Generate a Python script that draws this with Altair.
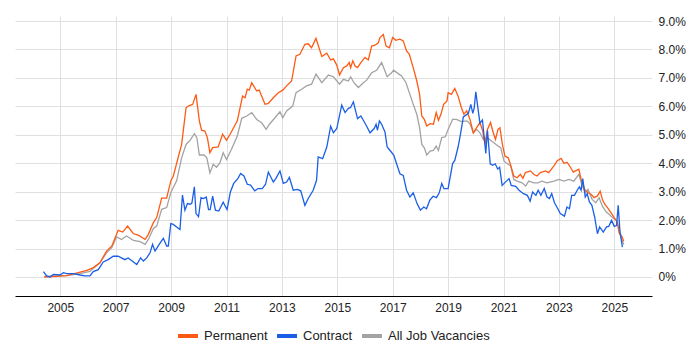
import altair as alt
import pandas as pd

perm_x = [2004.42, 2005.23, 2005.65, 2005.96, 2006.19, 2006.43, 2006.67, 2006.86, 2007.09, 2007.25, 2007.43, 2007.64, 2007.82, 2008.06, 2008.18, 2008.36, 2008.48, 2008.66, 2008.84, 2008.99, 2009.08, 2009.38, 2009.54, 2009.62, 2009.78, 2009.9, 2010.02, 2010.1, 2010.22, 2010.31, 2010.4, 2010.5, 2010.7, 2010.86, 2011.0, 2011.13, 2011.39, 2011.58, 2011.67, 2011.75, 2011.82, 2011.91, 2012.09, 2012.18, 2012.39, 2012.51, 2012.69, 2012.87, 2013.03, 2013.17, 2013.35, 2013.51, 2013.65, 2013.83, 2013.95, 2014.07, 2014.23, 2014.44, 2014.62, 2014.76, 2014.86, 2014.98, 2015.08, 2015.22, 2015.34, 2015.43, 2015.48, 2015.56, 2015.64, 2015.73, 2015.85, 2016.0, 2016.12, 2016.24, 2016.36, 2016.48, 2016.54, 2016.66, 2016.76, 2016.88, 2017.0, 2017.11, 2017.26, 2017.38, 2017.5, 2017.6, 2017.74, 2017.87, 2017.97, 2018.05, 2018.14, 2018.23, 2018.35, 2018.47, 2018.57, 2018.65, 2018.74, 2018.84, 2018.96, 2019.0, 2019.12, 2019.24, 2019.36, 2019.48, 2019.57, 2019.67, 2019.79, 2019.91, 2020.03, 2020.15, 2020.25, 2020.33, 2020.42, 2020.53, 2020.63, 2020.71, 2020.8, 2020.87, 2020.96, 2021.05, 2021.17, 2021.25, 2021.37, 2021.49, 2021.61, 2021.7, 2021.79, 2021.97, 2022.09, 2022.21, 2022.33, 2022.51, 2022.63, 2022.82, 2022.94, 2023.08, 2023.18, 2023.3, 2023.42, 2023.52, 2023.6, 2023.72, 2023.8, 2023.93, 2024.05, 2024.17, 2024.27, 2024.39, 2024.49, 2024.57, 2024.66, 2024.76, 2024.88, 2025.0, 2025.1, 2025.18, 2025.27, 2025.34]
perm_y = [0.0, 0.05, 0.15, 0.23, 0.33, 0.5, 0.91, 1.09, 1.64, 1.58, 1.79, 1.52, 1.47, 1.32, 1.5, 1.91, 2.09, 2.77, 2.77, 3.38, 3.55, 4.66, 5.95, 6.01, 6.07, 6.42, 5.49, 5.16, 5.13, 4.9, 4.37, 4.55, 4.57, 5.02, 4.81, 5.02, 5.49, 6.36, 6.3, 6.6, 6.57, 6.83, 6.54, 6.57, 6.07, 6.1, 6.3, 6.48, 6.57, 6.72, 6.89, 7.77, 7.83, 8.18, 8.2, 8.06, 8.39, 7.75, 7.87, 7.63, 7.67, 7.45, 7.1, 7.36, 7.42, 7.54, 7.36, 7.6, 7.42, 7.36, 7.54, 7.72, 7.63, 8.12, 8.15, 8.23, 8.42, 8.53, 8.12, 8.06, 8.42, 8.32, 8.36, 8.3, 7.95, 7.83, 7.36, 6.89, 6.42, 5.66, 5.54, 5.31, 5.39, 5.37, 5.78, 5.51, 5.72, 6.07, 6.19, 6.48, 6.42, 6.63, 6.36, 5.95, 5.72, 5.84, 5.54, 5.07, 5.25, 5.43, 5.13, 4.66, 5.19, 5.43, 5.07, 4.84, 5.19, 5.25, 4.66, 4.25, 4.19, 3.96, 3.55, 3.49, 3.61, 3.47, 3.67, 3.73, 3.61, 3.55, 3.67, 3.73, 3.67, 3.91, 4.09, 4.17, 4.0, 4.03, 3.85, 3.69, 3.73, 3.79, 3.44, 3.08, 2.96, 2.9, 2.79, 2.85, 3.02, 2.72, 2.55, 2.43, 2.26, 2.08, 1.96, 1.55, 1.43, 1.26]

contract_x = [2004.39, 2004.51, 2004.63, 2004.75, 2004.99, 2005.11, 2005.23, 2005.47, 2005.71, 2005.89, 2006.07, 2006.19, 2006.37, 2006.55, 2006.73, 2006.91, 2007.09, 2007.33, 2007.45, 2007.57, 2007.76, 2007.9, 2008.0, 2008.12, 2008.24, 2008.33, 2008.42, 2008.57, 2008.72, 2008.84, 2008.9, 2008.99, 2009.08, 2009.2, 2009.32, 2009.41, 2009.5, 2009.59, 2009.69, 2009.75, 2009.84, 2009.9, 2009.99, 2010.08, 2010.17, 2010.27, 2010.35, 2010.41, 2010.5, 2010.6, 2010.72, 2010.88, 2011.02, 2011.14, 2011.26, 2011.41, 2011.51, 2011.63, 2011.75, 2011.87, 2012.02, 2012.14, 2012.29, 2012.41, 2012.51, 2012.69, 2012.78, 2012.93, 2013.05, 2013.17, 2013.27, 2013.41, 2013.56, 2013.68, 2013.83, 2013.95, 2014.13, 2014.25, 2014.31, 2014.47, 2014.62, 2014.76, 2014.86, 2014.98, 2015.16, 2015.28, 2015.4, 2015.48, 2015.58, 2015.73, 2015.85, 2015.97, 2016.06, 2016.18, 2016.33, 2016.4, 2016.45, 2016.52, 2016.6, 2016.72, 2016.8, 2016.92, 2017.04, 2017.14, 2017.26, 2017.38, 2017.5, 2017.62, 2017.74, 2017.88, 2018.0, 2018.12, 2018.22, 2018.34, 2018.46, 2018.58, 2018.68, 2018.77, 2018.85, 2019.0, 2019.16, 2019.24, 2019.36, 2019.45, 2019.55, 2019.64, 2019.73, 2019.82, 2019.89, 2019.94, 2020.0, 2020.07, 2020.15, 2020.24, 2020.3, 2020.36, 2020.42, 2020.52, 2020.61, 2020.7, 2020.79, 2020.86, 2020.95, 2021.04, 2021.2, 2021.28, 2021.44, 2021.56, 2021.72, 2021.86, 2021.96, 2022.05, 2022.17, 2022.25, 2022.35, 2022.47, 2022.57, 2022.66, 2022.74, 2022.84, 2022.96, 2023.05, 2023.2, 2023.29, 2023.38, 2023.46, 2023.56, 2023.66, 2023.74, 2023.8, 2023.86, 2023.95, 2024.02, 2024.1, 2024.19, 2024.29, 2024.39, 2024.47, 2024.6, 2024.72, 2024.8, 2024.9, 2025.0, 2025.08, 2025.14, 2025.2, 2025.29]
contract_y = [0.19, 0.04, 0.0, 0.09, 0.07, 0.15, 0.12, 0.12, 0.07, 0.04, 0.04, 0.19, 0.26, 0.53, 0.61, 0.73, 0.73, 0.61, 0.67, 0.58, 0.44, 0.67, 0.56, 0.67, 0.85, 1.15, 0.91, 1.15, 1.36, 1.09, 1.09, 1.88, 1.85, 1.76, 1.67, 2.88, 2.35, 2.58, 2.56, 2.6, 3.17, 2.23, 2.12, 2.79, 2.76, 2.81, 2.37, 2.37, 2.84, 2.35, 2.32, 2.63, 2.37, 2.99, 3.29, 3.46, 3.64, 3.55, 3.26, 3.23, 3.03, 3.11, 3.11, 3.26, 3.69, 3.34, 3.46, 3.73, 3.29, 3.34, 3.5, 3.05, 3.08, 3.03, 2.52, 2.76, 3.05, 3.4, 4.22, 4.16, 4.57, 5.3, 5.07, 5.22, 6.04, 5.78, 5.93, 5.96, 6.16, 5.57, 5.66, 5.46, 5.3, 5.07, 5.22, 5.37, 5.16, 5.49, 5.37, 5.1, 4.57, 4.43, 4.28, 3.98, 3.63, 3.57, 3.05, 2.81, 2.96, 2.58, 2.35, 2.46, 2.4, 2.7, 2.84, 2.79, 2.96, 3.29, 3.11, 3.11, 3.98, 4.1, 4.57, 5.04, 5.63, 5.69, 5.75, 6.07, 5.75, 5.93, 6.51, 5.98, 5.4, 5.52, 4.93, 4.34, 5.16, 3.98, 3.93, 3.98, 3.8, 3.86, 3.22, 3.31, 3.46, 3.22, 3.19, 3.05, 2.93, 2.87, 2.67, 2.99, 2.87, 3.05, 2.87, 3.11, 2.81, 2.76, 2.93, 2.61, 2.4, 2.23, 2.14, 2.46, 2.4, 2.87, 2.87, 3.05, 3.17, 3.05, 3.46, 2.81, 2.93, 2.64, 2.52, 2.11, 1.52, 1.76, 1.58, 1.76, 1.78, 1.99, 1.78, 1.81, 2.52, 1.64, 1.05]

all_x = [2004.42, 2005.23, 2005.71, 2006.07, 2006.43, 2006.67, 2006.86, 2007.03, 2007.21, 2007.39, 2007.64, 2007.88, 2008.06, 2008.18, 2008.36, 2008.48, 2008.66, 2008.84, 2008.99, 2009.2, 2009.38, 2009.54, 2009.69, 2009.84, 2009.93, 2010.02, 2010.19, 2010.29, 2010.4, 2010.52, 2010.64, 2010.76, 2010.88, 2011.0, 2011.18, 2011.39, 2011.55, 2011.73, 2011.91, 2012.09, 2012.27, 2012.43, 2012.55, 2012.75, 2012.93, 2013.03, 2013.17, 2013.39, 2013.51, 2013.71, 2013.89, 2014.07, 2014.23, 2014.44, 2014.68, 2014.86, 2015.08, 2015.22, 2015.4, 2015.48, 2015.6, 2015.76, 2015.94, 2016.06, 2016.24, 2016.42, 2016.6, 2016.8, 2016.96, 2017.03, 2017.2, 2017.32, 2017.48, 2017.62, 2017.74, 2017.87, 2017.97, 2018.05, 2018.14, 2018.23, 2018.35, 2018.47, 2018.57, 2018.65, 2018.77, 2018.9, 2019.0, 2019.16, 2019.3, 2019.48, 2019.67, 2019.79, 2019.91, 2020.03, 2020.15, 2020.27, 2020.42, 2020.57, 2020.73, 2020.9, 2021.02, 2021.14, 2021.26, 2021.37, 2021.49, 2021.67, 2021.8, 2021.91, 2022.09, 2022.24, 2022.39, 2022.57, 2022.82, 2023.0, 2023.18, 2023.36, 2023.54, 2023.72, 2023.84, 2023.96, 2024.05, 2024.2, 2024.33, 2024.45, 2024.57, 2024.7, 2024.82, 2024.94, 2025.1, 2025.18, 2025.27, 2025.34]
all_y = [0.02, 0.05, 0.12, 0.2, 0.5, 0.85, 1.03, 1.41, 1.32, 1.44, 1.29, 1.24, 1.15, 1.32, 1.71, 1.79, 2.38, 2.44, 2.97, 3.38, 4.19, 4.66, 4.81, 5.04, 4.9, 4.29, 4.29, 4.19, 3.66, 3.96, 3.86, 4.01, 4.37, 4.13, 4.49, 4.96, 5.58, 5.66, 5.78, 5.54, 5.42, 5.19, 5.37, 5.6, 5.81, 5.6, 5.84, 6.01, 6.48, 6.6, 6.72, 6.78, 7.13, 6.83, 7.1, 7.04, 6.78, 6.95, 6.89, 7.04, 6.83, 6.66, 6.83, 6.92, 7.18, 7.27, 7.54, 7.04, 7.18, 7.27, 7.15, 7.07, 6.83, 6.42, 6.07, 5.72, 5.25, 4.66, 4.54, 4.29, 4.43, 4.45, 4.6, 4.45, 4.9, 4.93, 5.19, 5.54, 5.54, 5.46, 5.49, 5.39, 5.07, 5.19, 5.07, 4.84, 4.9, 4.78, 4.66, 4.54, 4.07, 3.98, 3.9, 3.43, 3.37, 3.31, 3.2, 3.37, 3.31, 3.31, 3.37, 3.31, 3.37, 3.43, 3.37, 3.43, 3.37, 3.61, 3.2, 2.96, 3.08, 2.73, 2.61, 2.79, 2.49, 2.29, 2.2, 2.08, 1.96, 1.55, 1.32, 1.14]

series_names = ["Permanent", "Contract", "All Job Vacancies"]
series_colors = ["#ff5a14", "#1a5fe6", "#a3a3a3"]
x_ticks = [2005, 2007, 2009, 2011, 2013, 2015, 2017, 2019, 2021, 2023, 2025]
y_ticks = [0, 1, 2, 3, 4, 5, 6, 7, 8, 9]

frames = []
for name, xs, ys in [("All Job Vacancies", all_x, all_y),
                     ("Permanent", perm_x, perm_y),
                     ("Contract", contract_x, contract_y)]:
    frames.append(pd.DataFrame({"year": xs, "value": ys, "series": name}))
df = pd.concat(frames, ignore_index=True)

FONT = "Liberation Sans, Arial, sans-serif"

base = alt.Chart(df)

def line_for(name):
    return base.transform_filter(alt.datum.series == name).mark_line(strokeWidth=1.3).encode(
        x=alt.X("year:Q",
                scale=alt.Scale(domain=[2003.365, 2026.36], nice=False, zero=False),
                axis=alt.Axis(values=x_ticks, format="d", title=None, ticks=False,
                              labelPadding=6, domainColor="#000000", grid=True,
                              gridColor="#e0e0e0", labelFontSize=12, labelColor="#222222",
                              labelFont=FONT)),
        y=alt.Y("value:Q",
                scale=alt.Scale(domain=[-0.668, 9.176], nice=False, zero=False),
                axis=alt.Axis(orient="right", values=y_ticks, title=None, ticks=False,
                              domain=False, labelPadding=6, grid=True, gridColor="#e0e0e0",
                              labelExpr="datum.value == 0 ? '0%' : format(datum.value, '.1f') + '%'",
                              labelFontSize=12, labelColor="#222222", labelFont=FONT)),
        color=alt.Color("series:N",
                        scale=alt.Scale(domain=series_names, range=series_colors),
                        legend=alt.Legend(title=None, orient="none", direction="horizontal",
                                          legendX=161, legendY=308,
                                          symbolType="stroke", symbolStrokeWidth=4,
                                          symbolSize=400, labelFontSize=13,
                                          labelFont=FONT, labelColor="#222222",
                                          labelOffset=4, columnPadding=1)),
    )

chart = alt.layer(
    line_for("All Job Vacancies"),
    line_for("Permanent"),
    line_for("Contract"),
).properties(
    width=637, height=280,
    padding={"left": 7, "top": 7, "right": 5, "bottom": 5},
).configure_view(stroke=None)

chart.save("out.html", embed_options={"renderer": "svg", "actions": False})
